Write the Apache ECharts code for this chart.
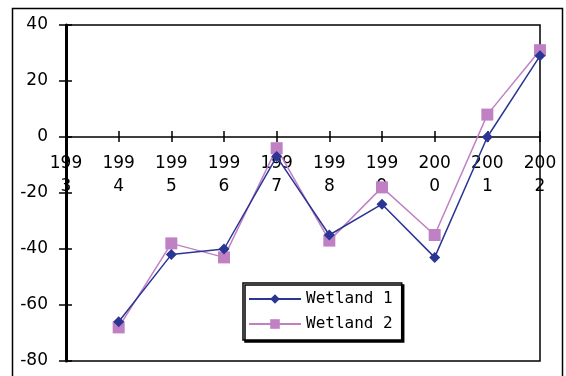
<!DOCTYPE html>
<html><head><meta charset="utf-8">
<script src="https://cdn.jsdelivr.net/npm/echarts@6/dist/echarts.min.js"></script>
<style>html,body{margin:0;padding:0;background:#fff}#c{width:566px;height:376px}</style>
</head><body><div id="c"></div>
<script>
const years = ['1993','1994','1995','1996','1997','1998','1999','2000','2001','2002'];
const wetland1 = [null,-66,-42,-40,-7,-35,-24,-43,0,29];
const wetland2 = [null,-68,-38,-43,-4,-37,-18,-35,8,31];
const yTicks = {min:-80,max:40,interval:20};
const font = 'DejaVu Sans';
const gridTop = 25, gridBottom = 15, H = 376;
const plotH = H - gridTop - gridBottom;
const zeroOffset = -plotH * (0 - yTicks.min) / (yTicks.max - yTicks.min);
const chart = echarts.init(document.getElementById('c'));
const xBase = {type:'category',data:years,boundaryGap:false,position:'bottom',offset:zeroOffset,
  splitLine:{show:false}};
const yBase = {type:'value',min:yTicks.min,max:yTicks.max,interval:yTicks.interval,splitLine:{show:false}};
chart.setOption({
  animation:false,
  backgroundColor:'#fff',
  graphic:[{type:'rect',shape:{x:12.5,y:8.5,width:550,height:380},style:{fill:'none',stroke:'#000',lineWidth:1.5},silent:true,z:-1}],
  grid:{left:66,right:26,top:gridTop,bottom:gridBottom,outerBoundsMode:'none',containLabel:false,
    show:true,borderColor:'#000',borderWidth:1.5,backgroundColor:'#fff'},
  legend:{orient:'vertical',left:243,top:283,itemWidth:52,itemHeight:12,itemGap:9,
    padding:[8,9,8,5],backgroundColor:'#fff',borderColor:'#000',borderWidth:1.5,
    shadowColor:'#000',shadowOffsetX:2,shadowOffsetY:2,shadowBlur:0,
    textStyle:{fontFamily:'DejaVu Sans Mono',fontSize:16,color:'#000'},
    data:['Wetland 1','Wetland 2']},
  xAxis:[
    Object.assign({},xBase,{
      axisLine:{onZero:false,lineStyle:{color:'#000',width:1.5}},
      axisTick:{show:true,alignWithLabel:true,length:-6,lineStyle:{color:'#000',width:1.5}},
      axisLabel:{interval:0,margin:15,lineHeight:23,fontFamily:font,fontSize:17,color:'#000',
        formatter:v=>v.slice(0,3)+'\n'+v.slice(3)}}),
    Object.assign({},xBase,{
      axisLine:{show:false,onZero:false},
      axisTick:{show:true,alignWithLabel:true,length:5,lineStyle:{color:'#000',width:1.5}},
      axisLabel:{show:false}})
  ],
  yAxis:[
    Object.assign({},yBase,{
      axisLine:{show:true,onZero:false,lineStyle:{color:'#000',width:3}},
      axisTick:{show:true,length:7,lineStyle:{color:'#000',width:1.5}},
      axisLabel:{margin:18,fontFamily:font,fontSize:17,color:'#000'}}),
    Object.assign({},yBase,{position:'left',
      axisLine:{show:false,onZero:false},
      axisTick:{show:true,length:-6,lineStyle:{color:'#000',width:1.5}},
      axisLabel:{show:false}})
  ],
  series:[
    {name:'Wetland 1',type:'line',data:wetland1,symbol:'diamond',symbolSize:11,
     lineStyle:{color:'#2a3594',width:1.5},itemStyle:{color:'#2a3594'},z:3},
    {name:'Wetland 2',type:'line',data:wetland2,symbol:'rect',symbolSize:12,
     lineStyle:{color:'#c080c4',width:1.5},itemStyle:{color:'#c080c4'},z:2}
  ]
});
</script></body></html>
